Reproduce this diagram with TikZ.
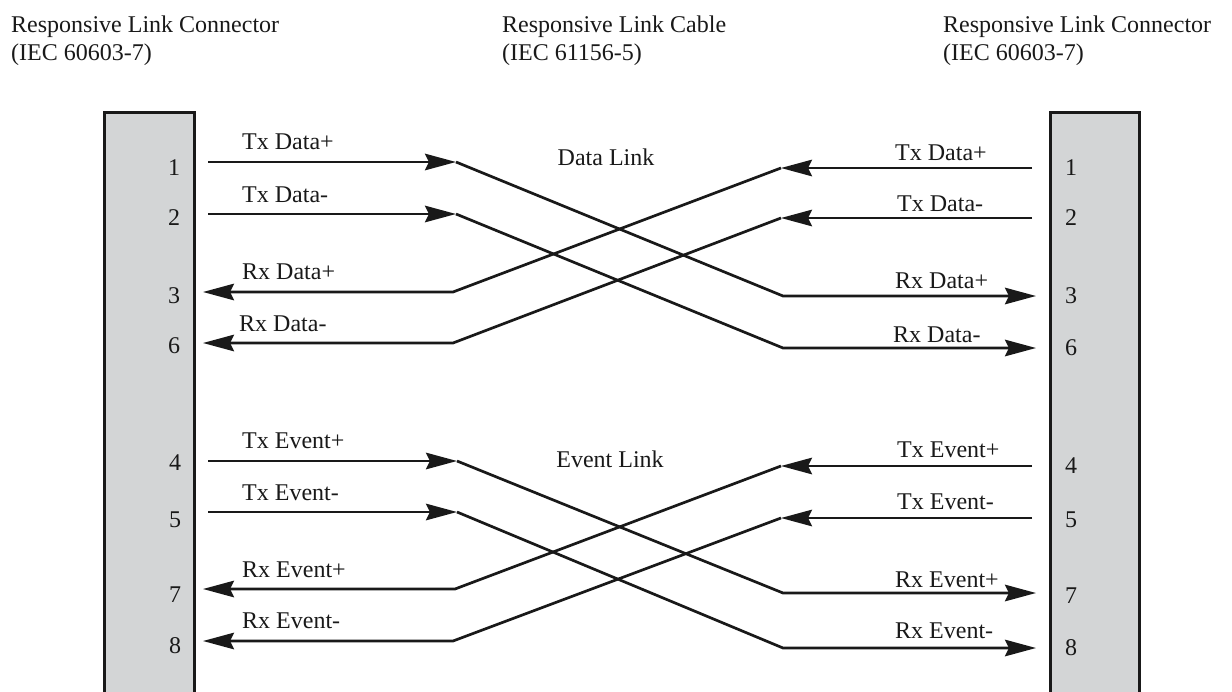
\documentclass[tikz,border=0pt]{standalone}
\usepackage{fontspec}
\setmainfont{Liberation Serif}
\usetikzlibrary{arrows.meta}
\definecolor{boxfill}{RGB}{211,213,214}
\definecolor{ink}{RGB}{25,25,25}
\begin{document}
\begin{tikzpicture}[x=1pt,y=-1pt,
  txt/.style={inner sep=0pt,font=\fontsize{24}{28}\selectfont,text=ink},
  lbl/.style={txt,anchor=base west},
  pin/.style={txt,anchor=base},
  hdr/.style={txt,anchor=north west,align=left},
  conn/.style={fill=boxfill,draw=none,inner sep=0pt,minimum width=89pt,minimum height=581pt,anchor=north},
  boxline/.style={draw=ink,line width=3pt,line join=miter},
  wire/.style={draw=ink,line width=2.7pt,line join=round},
  arr/.style={-{Stealth[length=31pt,width=16.5pt,inset=4pt]}}
]
\useasboundingbox (0,0) rectangle (1232,691);

% headers
\node[hdr] (hL) at (11,15.6) {Responsive Link Connector\\(IEC 60603-7)};
\node[hdr] (hM) at (502,15.6) {Responsive Link Cable\\(IEC 61156-5)};
\node[hdr] (hR) at (943,15.6) {Responsive Link Connector\\(IEC 60603-7)};

% connector boxes
\node[conn] (lbox) at (149.5,112) {};
\node[conn] (rbox) at (1095,112) {};
\draw[boxline] (lbox.south west) -- (lbox.north west) -- (lbox.north east) -- (lbox.south east);
\draw[boxline] (rbox.south west) -- (rbox.north west) -- (rbox.north east) -- (rbox.south east);

% pin numbers left
\node[pin] (pl1) at (174,175) {1};
\node[pin] (pl2) at (174,225) {2};
\node[pin] (pl3) at (174,303) {3};
\node[pin] (pl6) at (174,353) {6};
\node[pin] (pl4) at (175,470) {4};
\node[pin] (pl5) at (175,527) {5};
\node[pin] (pl7) at (175,602) {7};
\node[pin] (pl8) at (175,653) {8};
% pin numbers right
\node[pin] (pr1) at (1071,175) {1};
\node[pin] (pr2) at (1071,225) {2};
\node[pin] (pr3) at (1071,303) {3};
\node[pin] (pr6) at (1071,355) {6};
\node[pin] (pr4) at (1071,473) {4};
\node[pin] (pr5) at (1071,527) {5};
\node[pin] (pr7) at (1071,603) {7};
\node[pin] (pr8) at (1071,655) {8};

% link titles
\node[txt,anchor=base] (dlink) at (606,165) {Data Link};
\node[txt,anchor=base] (elink) at (610,467) {Event Link};

% wire labels left
\node[lbl] (a1) at (242,149) {Tx Data+};
\node[lbl] (a2) at (242,202) {Tx Data-};
\node[lbl] (a3) at (242,279) {Rx Data+};
\node[lbl] (a6) at (239,331) {Rx Data-};
\node[lbl] (a4) at (242,448) {Tx Event+};
\node[lbl] (a5) at (242,500) {Tx Event-};
\node[lbl] (a7) at (242,577) {Rx Event+};
\node[lbl] (a8) at (242,628) {Rx Event-};
% wire labels right
\node[lbl] (b1) at (895,160) {Tx Data+};
\node[lbl] (b2) at (897,211) {Tx Data-};
\node[lbl] (b3) at (895,288) {Rx Data+};
\node[lbl] (b6) at (893,342) {Rx Data-};
\node[lbl] (b4) at (897,457) {Tx Event+};
\node[lbl] (b5) at (897,509) {Tx Event-};
\node[lbl] (b7) at (895,587) {Rx Event+};
\node[lbl] (b8) at (895,638) {Rx Event-};

% wire coordinates: left side
\coordinate (L1s) at (208,162); \coordinate (L1m) at (456,162);
\coordinate (L2s) at (208,214); \coordinate (L2m) at (456,214);
\coordinate (L3e) at (203,292); \coordinate (L3m) at (453,292);
\coordinate (L6e) at (203,343); \coordinate (L6m) at (453,343);
\coordinate (L4s) at (208,461); \coordinate (L4m) at (457,461);
\coordinate (L5s) at (208,512); \coordinate (L5m) at (457,512);
\coordinate (L7e) at (203,589); \coordinate (L7m) at (455,589);
\coordinate (L8e) at (203,641); \coordinate (L8m) at (453,641);
% right side
\coordinate (R1s) at (1032,168); \coordinate (R1m) at (781,168);
\coordinate (R2s) at (1032,218); \coordinate (R2m) at (781,218);
\coordinate (R3e) at (1036,296); \coordinate (R3m) at (783,296);
\coordinate (R6e) at (1036,348); \coordinate (R6m) at (783,348);
\coordinate (R4s) at (1032,466); \coordinate (R4m) at (781,466);
\coordinate (R5s) at (1032,518); \coordinate (R5m) at (781,518);
\coordinate (R7e) at (1036,593); \coordinate (R7m) at (783,593);
\coordinate (R8e) at (1036,648); \coordinate (R8m) at (783,648);

% data link wires
\draw[wire,arr] (L1s) -- (L1m);
\draw[wire,arr] (L1m) -- (R3m) -- (R3e);
\draw[wire,arr] (L2s) -- (L2m);
\draw[wire,arr] (L2m) -- (R6m) -- (R6e);
\draw[wire,arr] (R1s) -- (R1m);
\draw[wire,arr] (R1m) -- (L3m) -- (L3e);
\draw[wire,arr] (R2s) -- (R2m);
\draw[wire,arr] (R2m) -- (L6m) -- (L6e);
% event link wires
\draw[wire,arr] (L4s) -- (L4m);
\draw[wire,arr] (L4m) -- (R7m) -- (R7e);
\draw[wire,arr] (L5s) -- (L5m);
\draw[wire,arr] (L5m) -- (R8m) -- (R8e);
\draw[wire,arr] (R4s) -- (R4m);
\draw[wire,arr] (R4m) -- (L7m) -- (L7e);
\draw[wire,arr] (R5s) -- (R5m);
\draw[wire,arr] (R5m) -- (L8m) -- (L8e);
\end{tikzpicture}
\end{document}
